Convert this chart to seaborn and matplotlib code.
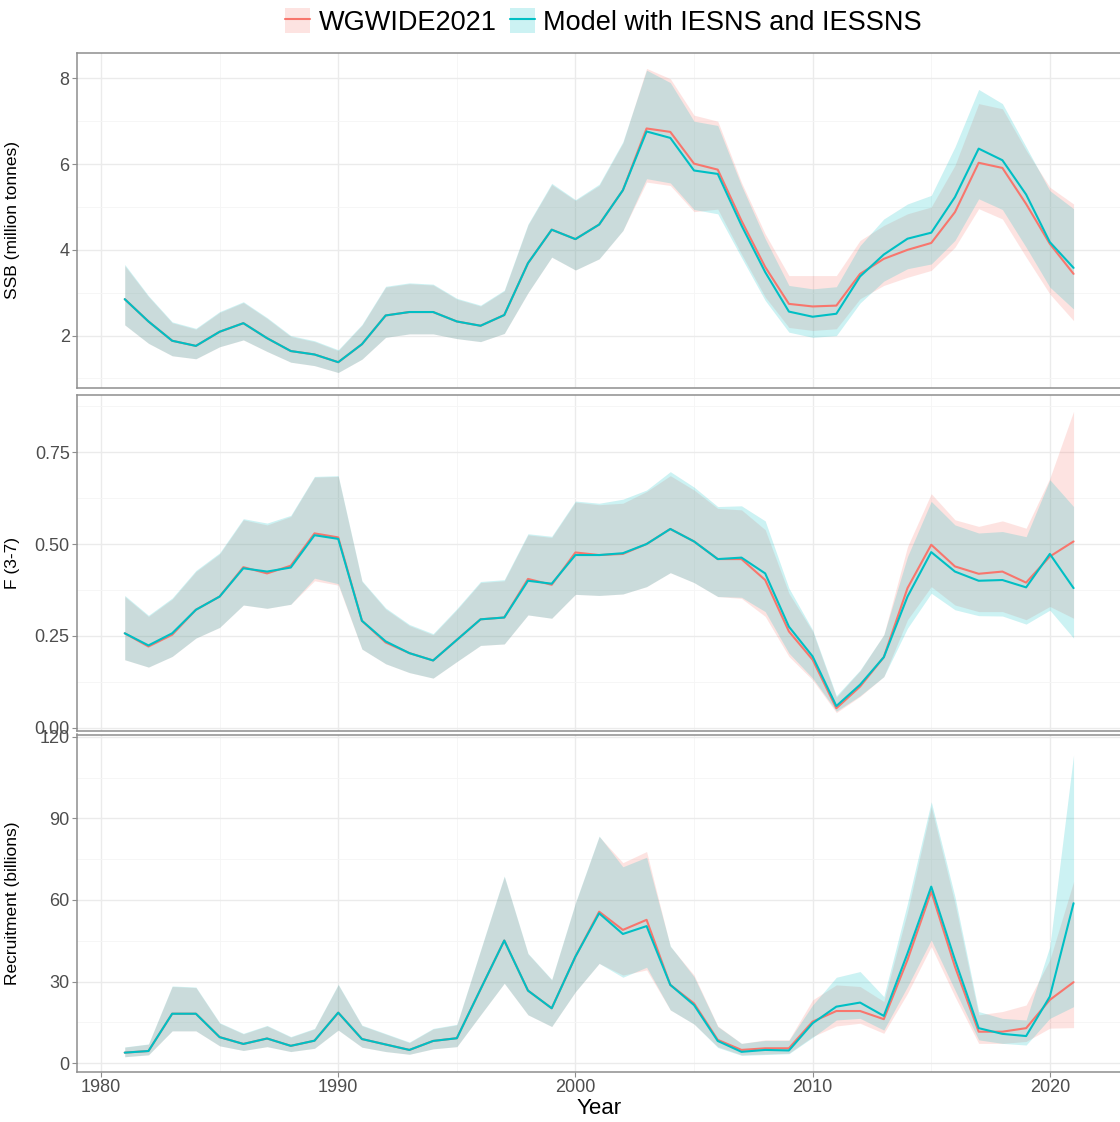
import numpy as np
import pandas as pd
import matplotlib
matplotlib.use("Agg")
import matplotlib.pyplot as plt
from matplotlib.patches import Patch
from matplotlib.lines import Line2D
from matplotlib.legend_handler import HandlerTuple
from matplotlib.ticker import MultipleLocator
import seaborn as sns

years = list(range(1981, 2022))

# Spawning stock biomass (million tonnes)
ssb_wg = [2.85, 2.33, 1.88, 1.76, 2.09, 2.29, 1.94, 1.64, 1.56, 1.38,
          1.80, 2.47, 2.55, 2.55, 2.33, 2.23, 2.48, 3.69, 4.47, 4.25,
          4.59, 5.39, 6.83, 6.75, 6.01, 5.87, 4.68, 3.60, 2.74, 2.68,
          2.70, 3.44, 3.79, 4.00, 4.16, 4.88, 6.03, 5.91, 5.07, 4.14, 3.44]
ssb_wg_lo = [2.25, 1.82, 1.53, 1.46, 1.74, 1.90, 1.63, 1.38, 1.30, 1.14,
             1.45, 1.96, 2.04, 2.04, 1.93, 1.86, 2.05, 3.00, 3.83, 3.53,
             3.79, 4.45, 5.58, 5.50, 4.89, 4.95, 3.90, 2.90, 2.19, 2.12,
             2.16, 2.86, 3.17, 3.36, 3.52, 4.06, 4.96, 4.72, 3.83, 2.97, 2.35]
ssb_wg_hi = [3.63, 2.91, 2.30, 2.15, 2.54, 2.77, 2.40, 1.98, 1.86, 1.65,
             2.24, 3.13, 3.21, 3.18, 2.85, 2.69, 3.04, 4.58, 5.52, 5.15,
             5.50, 6.49, 8.23, 7.99, 7.14, 7.00, 5.57, 4.37, 3.40, 3.40,
             3.40, 4.22, 4.57, 4.84, 5.00, 5.97, 7.41, 7.29, 6.32, 5.46, 5.07]
ssb_md = [2.85, 2.33, 1.88, 1.76, 2.09, 2.29, 1.94, 1.64, 1.56, 1.38,
          1.80, 2.47, 2.55, 2.55, 2.33, 2.23, 2.48, 3.69, 4.47, 4.25,
          4.59, 5.39, 6.76, 6.61, 5.85, 5.77, 4.57, 3.48, 2.56, 2.44,
          2.51, 3.38, 3.89, 4.26, 4.40, 5.23, 6.36, 6.09, 5.29, 4.18, 3.58]
ssb_md_lo = [2.25, 1.82, 1.53, 1.46, 1.74, 1.90, 1.63, 1.38, 1.30, 1.14,
             1.45, 1.96, 2.04, 2.04, 1.93, 1.86, 2.05, 3.00, 3.83, 3.53,
             3.79, 4.45, 5.66, 5.56, 4.94, 4.84, 3.82, 2.82, 2.08, 1.96,
             2.00, 2.76, 3.27, 3.56, 3.67, 4.22, 5.19, 4.94, 4.06, 3.13, 2.62]
ssb_md_hi = [3.66, 2.93, 2.32, 2.17, 2.56, 2.79, 2.42, 2.00, 1.88, 1.67,
             2.26, 3.15, 3.23, 3.20, 2.87, 2.71, 3.06, 4.60, 5.55, 5.17,
             5.53, 6.52, 8.19, 7.90, 7.00, 6.90, 5.50, 4.26, 3.17, 3.09,
             3.14, 4.10, 4.72, 5.07, 5.27, 6.40, 7.74, 7.41, 6.40, 5.38, 4.96]

# Fishing mortality, ages 3-7
f_wg = [0.257, 0.221, 0.253, 0.321, 0.357, 0.437, 0.420, 0.441, 0.529, 0.518,
        0.291, 0.232, 0.203, 0.183, 0.239, 0.295, 0.300, 0.405, 0.389, 0.477,
        0.470, 0.473, 0.500, 0.541, 0.507, 0.459, 0.459, 0.402, 0.262, 0.185,
        0.053, 0.112, 0.192, 0.380, 0.498, 0.439, 0.419, 0.425, 0.395, 0.466, 0.507]
f_wg_lo = [0.185, 0.165, 0.194, 0.244, 0.273, 0.334, 0.325, 0.336, 0.400, 0.388,
           0.214, 0.174, 0.150, 0.135, 0.180, 0.224, 0.228, 0.307, 0.298, 0.363,
           0.360, 0.364, 0.384, 0.422, 0.395, 0.357, 0.352, 0.303, 0.194, 0.130,
           0.041, 0.085, 0.139, 0.294, 0.384, 0.334, 0.316, 0.316, 0.294, 0.330, 0.298]
f_wg_hi = [0.357, 0.303, 0.350, 0.425, 0.473, 0.566, 0.552, 0.575, 0.682, 0.684,
           0.398, 0.323, 0.278, 0.253, 0.321, 0.395, 0.400, 0.525, 0.518, 0.614,
           0.607, 0.611, 0.643, 0.686, 0.647, 0.597, 0.593, 0.539, 0.366, 0.262,
           0.083, 0.155, 0.253, 0.493, 0.637, 0.566, 0.548, 0.563, 0.543, 0.679, 0.861]
f_md = [0.257, 0.224, 0.257, 0.321, 0.357, 0.434, 0.425, 0.436, 0.524, 0.514,
        0.291, 0.235, 0.203, 0.183, 0.239, 0.295, 0.300, 0.400, 0.392, 0.470,
        0.470, 0.475, 0.500, 0.541, 0.507, 0.459, 0.463, 0.420, 0.275, 0.194,
        0.059, 0.117, 0.192, 0.357, 0.478, 0.425, 0.400, 0.402, 0.382, 0.473, 0.380]
f_md_lo = [0.185, 0.165, 0.194, 0.244, 0.273, 0.334, 0.325, 0.336, 0.407, 0.392,
           0.214, 0.174, 0.150, 0.135, 0.180, 0.224, 0.228, 0.307, 0.298, 0.363,
           0.360, 0.364, 0.384, 0.422, 0.395, 0.357, 0.355, 0.316, 0.203, 0.135,
           0.045, 0.087, 0.139, 0.271, 0.366, 0.321, 0.305, 0.304, 0.282, 0.320, 0.244]
f_md_hi = [0.360, 0.306, 0.353, 0.428, 0.476, 0.569, 0.557, 0.578, 0.684, 0.686,
           0.400, 0.326, 0.281, 0.256, 0.324, 0.398, 0.403, 0.528, 0.521, 0.617,
           0.611, 0.622, 0.647, 0.697, 0.655, 0.602, 0.604, 0.563, 0.380, 0.266,
           0.087, 0.157, 0.253, 0.466, 0.616, 0.552, 0.530, 0.534, 0.520, 0.675, 0.602]

# Recruitment (billions)
rec_wg = [3.9, 4.5, 18.2, 18.2, 9.6, 7.1, 9.1, 6.4, 8.3, 18.6,
          8.9, 6.9, 4.9, 8.2, 9.2, 27.2, 45.1, 26.7, 20.2, 39.2,
          55.7, 49.0, 52.7, 28.8, 22.0, 8.6, 4.9, 5.5, 5.5, 15.3,
          19.2, 19.2, 16.2, 38.0, 63.1, 35.5, 11.6, 11.6, 12.9, 23.3, 29.8]
rec_wg_lo = [2.4, 3.1, 11.9, 11.9, 6.4, 4.7, 6.1, 4.3, 5.5, 12.2,
             5.9, 4.3, 3.3, 5.3, 6.1, 17.8, 29.4, 17.8, 13.5, 26.3,
             36.7, 32.4, 34.3, 19.6, 14.4, 6.1, 3.1, 3.4, 3.7, 9.8,
             13.7, 14.7, 11.0, 25.7, 42.9, 24.5, 7.3, 7.3, 8.0, 12.9, 13.1]
rec_wg_hi = [5.9, 7.0, 28.2, 27.8, 14.7, 10.8, 13.7, 9.6, 12.6, 28.8,
             13.8, 10.7, 7.6, 12.6, 14.1, 41.4, 68.6, 40.2, 30.6, 58.8,
             83.3, 73.7, 77.8, 42.9, 32.4, 13.7, 7.3, 8.6, 8.6, 23.3,
             28.8, 28.2, 22.7, 55.7, 94.3, 58.8, 17.8, 19.0, 21.4, 38.0, 66.7]
rec_md = [3.9, 4.5, 18.2, 18.2, 9.6, 7.1, 9.1, 6.4, 8.3, 18.6,
          8.9, 6.9, 4.9, 8.2, 9.2, 27.2, 45.1, 26.7, 20.2, 39.2,
          55.1, 47.5, 50.4, 28.8, 21.4, 8.2, 4.2, 4.9, 4.7, 14.7,
          20.8, 22.3, 17.4, 40.4, 64.9, 38.0, 12.9, 10.8, 10.0, 24.5, 58.8]
rec_md_lo = [2.4, 3.1, 11.9, 11.9, 6.4, 4.7, 6.1, 4.3, 5.5, 12.2,
             5.9, 4.3, 3.3, 5.3, 6.1, 17.8, 29.4, 17.8, 13.5, 26.3,
             36.7, 31.6, 35.3, 19.6, 14.4, 5.8, 2.9, 3.2, 3.5, 9.5,
             15.9, 16.5, 12.2, 28.2, 45.3, 26.9, 8.6, 7.3, 6.7, 16.5, 20.8]
rec_md_hi = [6.0, 7.1, 28.4, 28.0, 14.9, 11.0, 13.9, 9.8, 12.8, 29.0,
             14.0, 10.9, 7.8, 12.8, 14.3, 41.6, 68.8, 40.4, 30.8, 59.0,
             83.5, 72.2, 75.7, 43.1, 31.8, 13.5, 7.3, 8.4, 8.4, 21.4,
             31.6, 33.7, 24.5, 58.8, 96.1, 61.2, 19.0, 16.5, 15.9, 42.9, 113.3]

run_names = ["WGWIDE2021", "Model with IESNS and IESSNS"]
run_colors = ["#F8766D", "#00BFC4"]

panels = [
    ("SSB (million tonnes)", (ssb_wg, ssb_wg_lo, ssb_wg_hi), (ssb_md, ssb_md_lo, ssb_md_hi),
     [2, 4, 6, 8], 1.0, (0.79, 8.59), "{:.0f}"),
    ("F (3-7)", (f_wg, f_wg_lo, f_wg_hi), (f_md, f_md_lo, f_md_hi),
     [0.0, 0.25, 0.5, 0.75], 0.125, (-0.0076, 0.907), "{:.2f}"),
    ("Recruitment (billions)", (rec_wg, rec_wg_lo, rec_wg_hi), (rec_md, rec_md_lo, rec_md_hi),
     [0, 30, 60, 90, 120], 15, (-3.1, 120.8), "{:.0f}"),
]

sns.set_theme(style="white")
plt.rcParams["font.family"] = ["Liberation Sans", "DejaVu Sans"]

fig = plt.figure(figsize=(11.2, 11.22), dpi=100)
W, H = 1120, 1122
left = 77.3 / W
right = 1121.0 / W
boxes = [(53.0, 387.5), (394.5, 730.5), (734.5, 1071.7)]

grid_major = "#EBEBEB"
grid_minor = "#F5F5F5"
frame_col = "#8E8E8E"
tick_col = "#4D4D4D"

axes = []
for (ylabel, wg, md, yticks, yminor, ylim, fmt), (top, bot) in zip(panels, boxes):
    ax = fig.add_axes([left, 1 - bot / H, right - left, (bot - top) / H])
    axes.append(ax)
    long = pd.DataFrame({
        "Year": years * 2,
        "value": list(wg[0]) + list(md[0]),
        "lo": list(wg[1]) + list(md[1]),
        "hi": list(wg[2]) + list(md[2]),
        "run": [run_names[0]] * len(years) + [run_names[1]] * len(years),
    })
    for name, col in zip(run_names, run_colors):
        sub = long[long["run"] == name]
        ax.fill_between(sub["Year"], sub["lo"], sub["hi"], color=col,
                        alpha=0.2, linewidth=0, zorder=2)
    sns.lineplot(data=long, x="Year", y="value", hue="run",
                 hue_order=run_names, palette=run_colors, linewidth=1.5,
                 legend=False, ax=ax, zorder=3, estimator=None)

    ax.set_xlim(1979, 2023)
    ax.set_ylim(*ylim)
    ax.xaxis.set_major_locator(MultipleLocator(10))
    ax.xaxis.set_minor_locator(MultipleLocator(5))
    ax.set_yticks(yticks)
    ax.set_yticklabels([fmt.format(t) for t in yticks])
    ax.yaxis.set_minor_locator(MultipleLocator(yminor))
    ax.grid(which="major", color=grid_major, linewidth=1.0, zorder=0)
    ax.grid(which="minor", color=grid_minor, linewidth=0.6, zorder=0)
    ax.set_axisbelow(True)
    for s in ax.spines.values():
        s.set_color(frame_col)
        s.set_linewidth(1.1)
    ax.tick_params(axis="both", which="major", direction="out", length=3.5,
                   width=0.8, color=frame_col, labelcolor=tick_col,
                   labelsize=13, pad=2, left=True, bottom=True)
    ax.tick_params(axis="both", which="minor", length=0)
    ax.set_ylabel(ylabel, fontsize=12.5, color="black")
    # keep all y titles on a common vertical line
    ax.yaxis.set_label_coords((20.0 - 77.3) / (1121.0 - 77.3), 0.5)
    ax.set_xlabel("")

for ax in axes[:-1]:
    ax.tick_params(axis="x", labelbottom=False, bottom=False)
axes[-1].set_xlabel("Year", fontsize=16, color="black", labelpad=1)

# legend keys: translucent ribbon square with the run line across it
handles = [
    (Patch(facecolor=c, alpha=0.2, edgecolor="none"),
     Line2D([], [], color=c, linewidth=1.5))
    for c in run_colors
]
leg = fig.legend(handles, run_names,
                 handler_map={tuple: HandlerTuple(ndivide=1, pad=0)},
                 loc="center", bbox_to_anchor=(0.539, 1 - 22 / H), ncol=2,
                 frameon=False, fontsize=19.5, handlelength=0.9,
                 handleheight=1.0, handletextpad=0.33, columnspacing=0.5)
for t in leg.get_texts():
    t.set_color("black")

fig.savefig("out.png", dpi=100)
